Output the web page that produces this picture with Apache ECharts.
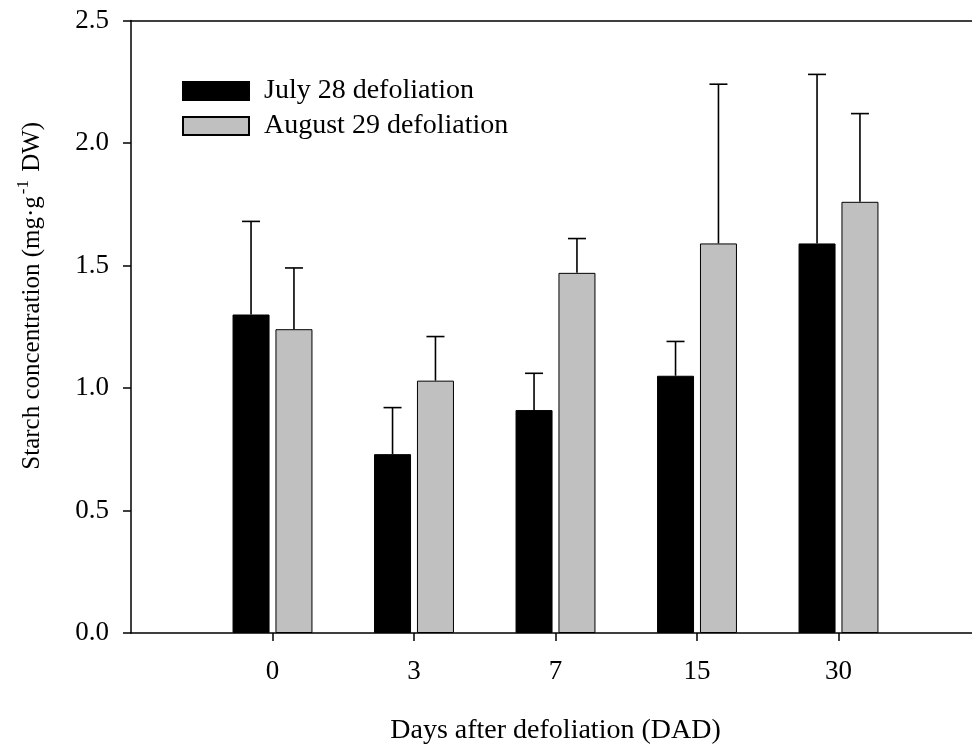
<!DOCTYPE html>
<html>
<head>
<meta charset="utf-8">
<script src="https://cdn.jsdelivr.net/npm/echarts@6/dist/echarts.min.js"></script>
<style>
html,body{margin:0;padding:0;background:#fff;}
#chart{width:972px;height:747px;}
</style>
</head>
<body>
<div id="chart"></div>
<script>
// ---- data ----
const categories = ['0', '3', '7', '15', '30'];
const julyMean  = [1.30, 0.73, 0.91, 1.05, 1.59];
const julyUpper = [1.68, 0.92, 1.06, 1.19, 2.28];
const augMean   = [1.24, 1.03, 1.47, 1.59, 1.76];
const augUpper  = [1.49, 1.21, 1.61, 2.24, 2.12];
const yTicks = [0, 0.5, 1.0, 1.5, 2.0, 2.5];
const seriesNames = ['July 28 defoliation', 'August 29 defoliation'];

// ---- styles ----
const FONT = 'Liberation Serif';
const BAR_W = 37;
const BAR_GAP = 0.16;
const OFFSET = (BAR_W + BAR_W * BAR_GAP) / 2;
const CAP = 9;

const positions = categories.map((c, i) => i + 1);

function errSeries(mean, upper, side) {
  return {
    type: 'custom',
    silent: true,
    z: 5,
    data: positions.map((x, i) => [x, mean[i], upper[i]]),
    renderItem: function (params, api) {
      const base = api.coord([api.value(0), api.value(1)]);
      const top = api.coord([api.value(0), api.value(2)]);
      const x = base[0] + side * OFFSET;
      return {
        type: 'group',
        children: [
          { type: 'line', shape: { x1: x, y1: base[1], x2: x, y2: top[1] },
            style: { stroke: '#000', lineWidth: 1.6 } },
          { type: 'line', shape: { x1: x - CAP, y1: top[1], x2: x + CAP, y2: top[1] },
            style: { stroke: '#000', lineWidth: 1.6 } }
        ]
      };
    }
  };
}

const chart = echarts.init(document.getElementById('chart'), null, { renderer: 'canvas' });
chart.setOption({
  backgroundColor: '#fff',
  animation: false,
  textStyle: { fontFamily: FONT, color: '#000' },
  grid: { left: 131, right: -8, top: 20.5, bottom: 114, containLabel: false, outerBoundsMode: 'none' },
  legend: {
    data: seriesNames,
    orient: 'vertical',
    left: 182, top: 77, padding: 0,
    itemWidth: 66, itemHeight: 18, itemGap: 7,
    icon: 'rect',
    textStyle: { fontFamily: FONT, fontSize: 28, color: '#000', padding: [0, 0, 0, 10] }
  },
  xAxis: [{
    type: 'value', min: 0, max: 6, interval: 1,
    position: 'bottom',
    name: 'Days after defoliation (DAD)',
    nameLocation: 'middle', nameGap: 84,
    nameTextStyle: { fontFamily: FONT, fontSize: 28, color: '#000' },
    axisLine: { show: true, lineStyle: { color: '#000', width: 1.5 } },
    axisTick: { show: true, length: 8, lineStyle: { color: '#000', width: 1.5 }, customValues: positions },
    axisLabel: { fontFamily: FONT, fontSize: 27, color: '#000', margin: 25,
      customValues: positions,
      formatter: v => categories[Math.round(v) - 1] ?? '' },
    splitLine: { show: false }
  }, {
    type: 'value', min: 0, max: 6, position: 'top',
    axisLine: { show: true, lineStyle: { color: '#000', width: 1.5 } },
    axisTick: { show: false }, axisLabel: { show: false }, splitLine: { show: false }
  }],
  yAxis: {
    type: 'value', min: yTicks[0], max: yTicks[yTicks.length - 1], interval: 0.5,
    name: '{t|Starch concentration (mg·g}{s|-1}{t| DW)}',
    nameLocation: 'middle', nameGap: 82,
    nameTextStyle: {
      fontFamily: FONT, fontSize: 25, color: '#000', padding: [0, 0, 0, 62],
      rich: {
        t: { fontFamily: FONT, fontSize: 25, color: '#000', lineHeight: 34 },
        s: { fontFamily: FONT, fontSize: 17, color: '#000', verticalAlign: 'top', padding: [0, 2, 0, 2] }
      }
    },
    axisLine: { show: true, lineStyle: { color: '#000', width: 1.5 } },
    axisTick: { show: true, length: 8, lineStyle: { color: '#000', width: 1.5 } },
    axisLabel: { fontFamily: FONT, fontSize: 27, color: '#000', margin: 22,
      formatter: v => v.toFixed(1) },
    splitLine: { show: false }
  },
  series: [
    {
      name: seriesNames[0], type: 'bar',
      barWidth: BAR_W, barGap: (BAR_GAP * 100) + '%',
      itemStyle: { color: '#000', borderColor: '#000', borderWidth: 1 },
      data: positions.map((x, i) => [x, julyMean[i]])
    },
    {
      name: seriesNames[1], type: 'bar',
      barWidth: BAR_W, barGap: (BAR_GAP * 100) + '%',
      itemStyle: { color: '#c0c0c0', borderColor: '#000', borderWidth: 1 },
      data: positions.map((x, i) => [x, augMean[i]])
    },
    errSeries(julyMean, julyUpper, -1),
    errSeries(augMean, augUpper, 1)
  ]
});
</script>
</body>
</html>
